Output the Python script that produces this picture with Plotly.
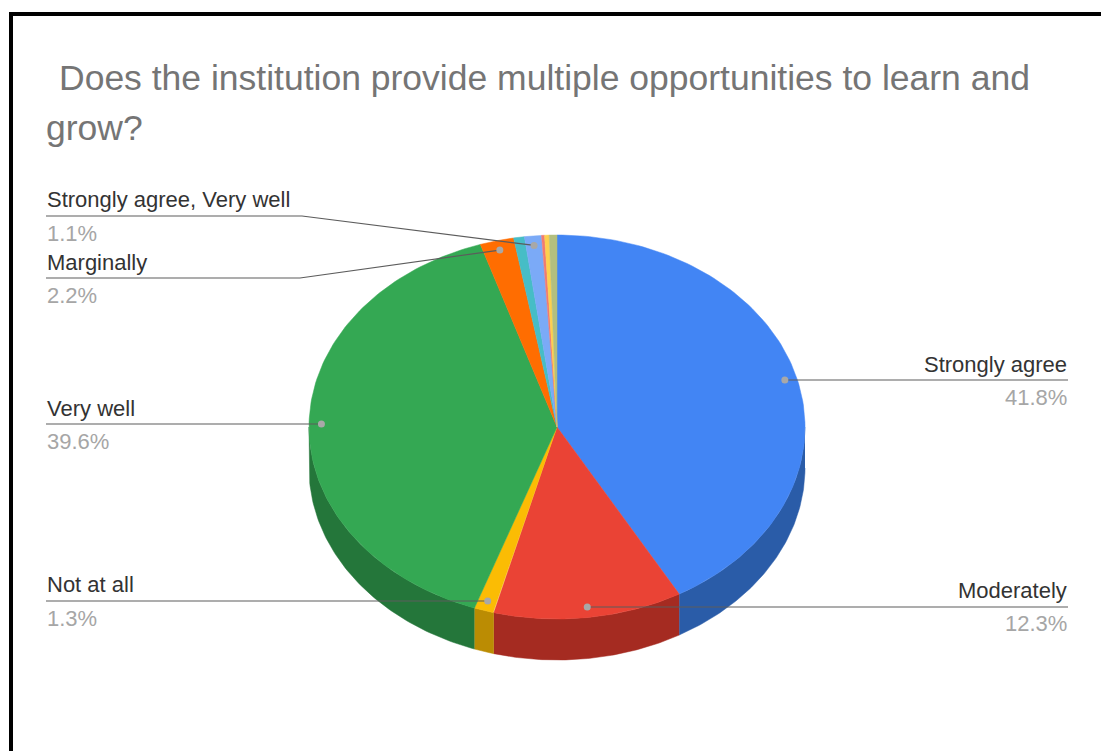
import numpy as np
import plotly.graph_objects as go

categories = ["Strongly agree", "Moderately", "Not at all", "Very well", "Marginally",
              "Other A", "Strongly agree, Very well", "Other B", "Other C", "Other D"]
values = [41.8, 12.3, 1.3, 39.6, 2.2, 0.7, 1.1, 0.2, 0.3, 0.5]
top_colors = ["#4285f4", "#ea4335", "#fbbc04", "#34a853", "#ff6d01",
              "#46bdc6", "#7baaf7", "#f07b72", "#fcd04f", "#b3bf7f"]
side_colors = ["#2a5ca8", "#a52b21", "#bb8c03", "#24763a", "#b34c01",
               "#318489", "#5677ad", "#a85650", "#b09137", "#758955"]
labelled = ["Strongly agree", "Moderately", "Not at all", "Very well", "Marginally",
            "Strongly agree, Very well"]

CX, CY, RX, RY, DEPTH = 557, 427, 248, 192, 41
TEXT = "#333333"
MUTED = "#a6a6a6"
LINE = "#5c5c5c"
FONT = "Liberation Sans"

# label layout: side, elbow x (None = straight), leader y, name y, pct y
label_layout = {
    "Strongly agree": ("right", None, 380, 364, 397),
    "Moderately": ("right", None, 607, 590, 623),
    "Very well": ("left", None, 424, 408, 441),
    "Not at all": ("left", None, 601, 584, 618),
    "Marginally": ("left", 300, 278, 262, 295),
    "Strongly agree, Very well": ("left", 302, 216, 199, 233),
}
LEFT_X, RIGHT_X = 46, 1068


def ex(a, r=1.0):
    return CX + RX * r * np.sin(a)


def ey(a, r=1.0):
    return CY - RY * r * np.cos(a)


fig = go.Figure()
total = sum(values)
edges = np.concatenate([[0], np.cumsum(values)]) / total * 2 * np.pi

# side wall
for i in range(len(values)):
    lo, hi = max(edges[i], np.pi / 2), min(edges[i + 1], 3 * np.pi / 2)
    if hi <= lo:
        continue
    a = np.linspace(lo, hi, 80)
    xs = np.concatenate([ex(a), ex(a[::-1])])
    ys = np.concatenate([ey(a), ey(a[::-1]) + DEPTH])
    fig.add_trace(go.Scatter(x=xs, y=ys, mode="lines", fill="toself", fillcolor=side_colors[i],
                             line=dict(color=side_colors[i], width=0.5), hoverinfo="skip"))

# top face
for i in range(len(values)):
    a = np.linspace(edges[i], edges[i + 1], 120)
    xs = np.concatenate([[CX], ex(a), [CX]])
    ys = np.concatenate([[CY], ey(a), [CY]])
    fig.add_trace(go.Scatter(x=xs, y=ys, mode="lines", fill="toself", fillcolor=top_colors[i],
                             line=dict(color=top_colors[i], width=0.5), hoverinfo="skip"))

# leaders and labels
annotations = []
for name in labelled:
    i = categories.index(name)
    side, elbow, ly, ny, py = label_layout[name]
    mid = (edges[i] + edges[i + 1]) / 2
    dx, dy = ex(mid, 0.95), ey(mid, 0.95)
    end = RIGHT_X if side == "right" else LEFT_X
    xs = [dx, end] if elbow is None else [dx, elbow, end]
    ys = [ly, ly] if elbow is None else [dy, ly, ly]
    fig.add_trace(go.Scatter(x=xs, y=ys, mode="lines", line=dict(color=LINE, width=1.2),
                             hoverinfo="skip"))
    fig.add_trace(go.Scatter(x=[dx], y=[dy if elbow is not None else ly], mode="markers",
                             marker=dict(color="#a8a8a8", size=7), hoverinfo="skip"))
    anchor = "right" if side == "right" else "left"
    tx = end + 1 if side == "right" else end - 1
    annotations.append(dict(x=tx, y=ny, xref="x", yref="y", text=name, showarrow=False,
                            xanchor=anchor, yanchor="middle",
                            font=dict(family=FONT, size=22, color=TEXT)))
    annotations.append(dict(x=tx, y=py, xref="x", yref="y", text=f"{values[i]}%", showarrow=False,
                            xanchor=anchor, yanchor="middle",
                            font=dict(family=FONT, size=22, color=MUTED)))

title_lines = [("Does the institution provide multiple opportunities to learn and", 78, 57),
               ("grow?", 128, 44)]
for text, y, x in title_lines:
    annotations.append(dict(x=x, y=y, xref="x", yref="y", text=text,
                            showarrow=False, xanchor="left", yanchor="middle",
                            font=dict(family=FONT, size=35.5, color="#757575")))

fig.update_layout(
    width=1101, height=751, margin=dict(l=0, r=0, t=0, b=0),
    paper_bgcolor="white", plot_bgcolor="white", showlegend=False,
    xaxis=dict(range=[0, 1101], visible=False, fixedrange=True),
    yaxis=dict(range=[751, 0], visible=False, fixedrange=True),
    annotations=annotations,
    shapes=[
        dict(type="rect", xref="x", yref="y", x0=9, x1=13, y0=12, y1=751,
             fillcolor="black", line_width=0, layer="above"),
        dict(type="rect", xref="x", yref="y", x0=9, x1=1101, y0=12, y1=16,
             fillcolor="black", line_width=0, layer="above"),
    ],
)
fig.write_html("out.html", config={"displayModeBar": False},
               post_script="document.body.style.margin='0';document.body.style.overflow='hidden';")
